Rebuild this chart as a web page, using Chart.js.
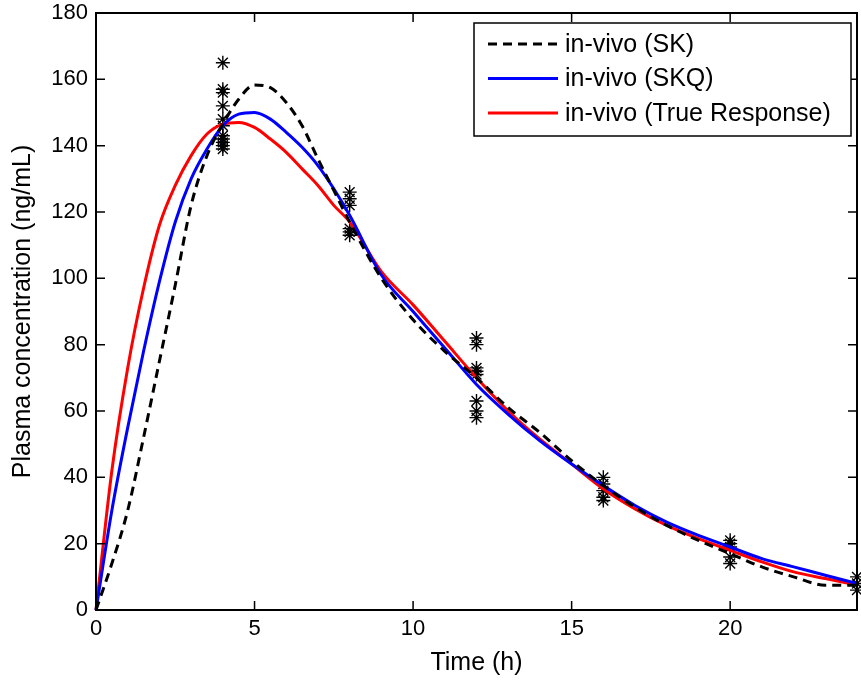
<!DOCTYPE html>
<html>
<head>
<meta charset="utf-8">
<script src="https://cdn.jsdelivr.net/npm/chart.js@4"></script>
<style>
  html, body { margin: 0; padding: 0; background: #fff; }
  #wrap { width: 861px; height: 686px; }
</style>
</head>
<body>
<div id="wrap"><canvas id="grafico" width="861" height="686"></canvas></div>
<script>
const tiempos = [0, 0.5, 1, 1.5, 2, 2.5, 3, 3.5, 4, 4.5, 5, 5.5, 6, 6.5, 7, 7.5, 8, 9, 10, 11, 12, 13, 14, 15, 16, 17, 18, 19, 20, 21, 22, 23, 24];
const sk =   [0, 14, 30, 52, 75, 98, 122, 137, 146.5, 154, 158.3, 157.5, 153, 146, 136, 126.5, 117, 100, 87.5, 78, 70, 61, 53.5, 45, 37.5, 31, 25.5, 21, 17, 13, 10, 7.5, 7.5];
const skq =  [0, 30, 55, 78, 99, 117, 130, 139, 146, 149.5, 150, 148, 144, 139.5, 134, 127, 119, 101, 90, 79, 68, 59, 51, 44, 37.5, 31.5, 26.5, 22.5, 19, 15.5, 13, 10.5, 8];
const real = [0, 42, 73, 97, 116, 128, 137, 143.5, 146.5, 147, 145.5, 142, 138, 133, 128, 122, 117, 102, 92, 81, 70, 60, 51.5, 44, 36.5, 30.5, 25.5, 21.5, 18, 14.5, 11.5, 9.5, 7.5];

// observaciones (asteriscos)
const obsT4 = [165, 157, 156, 152, 148, 146, 143, 142, 141, 140, 139];
const obsT8 = [126, 124, 122, 115, 114, 113];
const obsT12 = [82, 80, 73, 72, 71, 63, 60, 58];
const obsT16 = [40, 38, 36, 34, 33];
const obsT20 = [21, 20, 19, 16, 14];
const obsT24 = [10, 8, 6];

const xTicks = [0, 5, 10, 15, 20];
const yTicks = [0, 20, 40, 60, 80, 100, 120, 140, 160, 180];

const obs = [];
[[4, obsT4], [8, obsT8], [12, obsT12], [16, obsT16], [20, obsT20], [24, obsT24]].forEach(([t, vals]) => {
  vals.forEach(v => obs.push({ x: t, y: v }));
});
const serie = arr => tiempos.map((t, i) => ({ x: t, y: arr[i] }));

const fuente = '"Liberation Sans", Arial, sans-serif';

// caja, marcas hacia adentro y leyenda al estilo MATLAB
const estiloMatlab = {
  id: 'estiloMatlab',
  afterDraw(chart) {
    const { ctx, chartArea: a, scales } = chart;
    ctx.save();
    ctx.strokeStyle = '#000';
    ctx.lineWidth = 2;
    ctx.strokeRect(a.left, a.top, a.right - a.left, a.bottom - a.top);
    ctx.lineWidth = 1.5;
    ctx.beginPath();
    xTicks.forEach(v => {
      const px = scales.x.getPixelForValue(v);
      ctx.moveTo(px, a.bottom); ctx.lineTo(px, a.bottom - 9);
      ctx.moveTo(px, a.top); ctx.lineTo(px, a.top + 9);
    });
    yTicks.forEach(v => {
      const py = scales.y.getPixelForValue(v);
      ctx.moveTo(a.left, py); ctx.lineTo(a.left + 9, py);
      ctx.moveTo(a.right, py); ctx.lineTo(a.right - 9, py);
    });
    ctx.stroke();

    // leyenda
    const lx = 474, ly = 23, lw = 377, lh = 113;
    ctx.fillStyle = '#fff';
    ctx.fillRect(lx, ly, lw, lh);
    ctx.lineWidth = 1.5;
    ctx.strokeRect(lx, ly, lw, lh);
    ctx.font = '25px ' + fuente;
    ctx.textBaseline = 'middle';
    ctx.textAlign = 'left';
    chart.data.datasets.slice(0, 3).forEach((ds, i) => {
      const y = ly + 21 + i * 34.5;
      ctx.strokeStyle = ds.borderColor;
      ctx.lineWidth = 3;
      ctx.setLineDash(ds.borderDash || []);
      ctx.beginPath();
      ctx.moveTo(lx + 14, y); ctx.lineTo(lx + 84, y);
      ctx.stroke();
      ctx.setLineDash([]);
      ctx.fillStyle = '#000';
      ctx.fillText(ds.label, lx + 91, y + 1);
    });
    ctx.restore();
  }
};

new Chart(document.getElementById('grafico'), {
  type: 'line',
  data: {
    datasets: [
      { label: 'in-vivo (SK)', data: serie(sk), borderColor: '#000', borderWidth: 3, borderDash: [9, 6], pointRadius: 0, cubicInterpolationMode: 'monotone' },
      { label: 'in-vivo (SKQ)', data: serie(skq), borderColor: '#0000ff', borderWidth: 3, pointRadius: 0, cubicInterpolationMode: 'monotone' },
      { label: 'in-vivo (True Response)', data: serie(real), borderColor: '#ff0000', borderWidth: 3, pointRadius: 0, cubicInterpolationMode: 'monotone' },
      { label: 'obs', type: 'scatter', data: obs, showLine: false, pointStyle: 'star', pointRadius: 7, borderColor: '#000', backgroundColor: '#000', borderWidth: 1.4 }
    ]
  },
  options: {
    responsive: false,
    animation: false,
    clip: false,
    layout: { autoPadding: false, padding: { left: 0, top: 13, right: 4, bottom: 0 } },
    plugins: { legend: { display: false }, tooltip: { enabled: false } },
    scales: {
      x: {
        type: 'linear', min: 0, max: 24,
        grid: { display: false, drawTicks: false },
        border: { display: false },
        ticks: { stepSize: 5, color: '#000', font: { family: fuente, size: 22 }, padding: 6, maxRotation: 0 },
        afterBuildTicks: s => { s.ticks = xTicks.map(v => ({ value: v })); },
        afterFit: s => { s.height = 76; s.paddingLeft = 0; s.paddingRight = 0; },
        title: { display: true, text: 'Time (h)', color: '#000', font: { family: fuente, size: 25 }, padding: { top: 0, bottom: 8 } }
      },
      y: {
        type: 'linear', min: 0, max: 180,
        grid: { display: false, drawTicks: false },
        border: { display: false },
        ticks: { stepSize: 20, color: '#000', font: { family: fuente, size: 22 }, padding: 8 },
        afterBuildTicks: s => { s.ticks = yTicks.map(v => ({ value: v })); },
        afterFit: s => { s.width = 96; s.paddingTop = 0; s.paddingBottom = 0; },
        title: { display: true, text: 'Plasma concentration (ng/mL)', color: '#000', font: { family: fuente, size: 25 }, padding: { top: 8, bottom: 0 } }
      }
    }
  },
  plugins: [estiloMatlab]
});
</script>
</body>
</html>
